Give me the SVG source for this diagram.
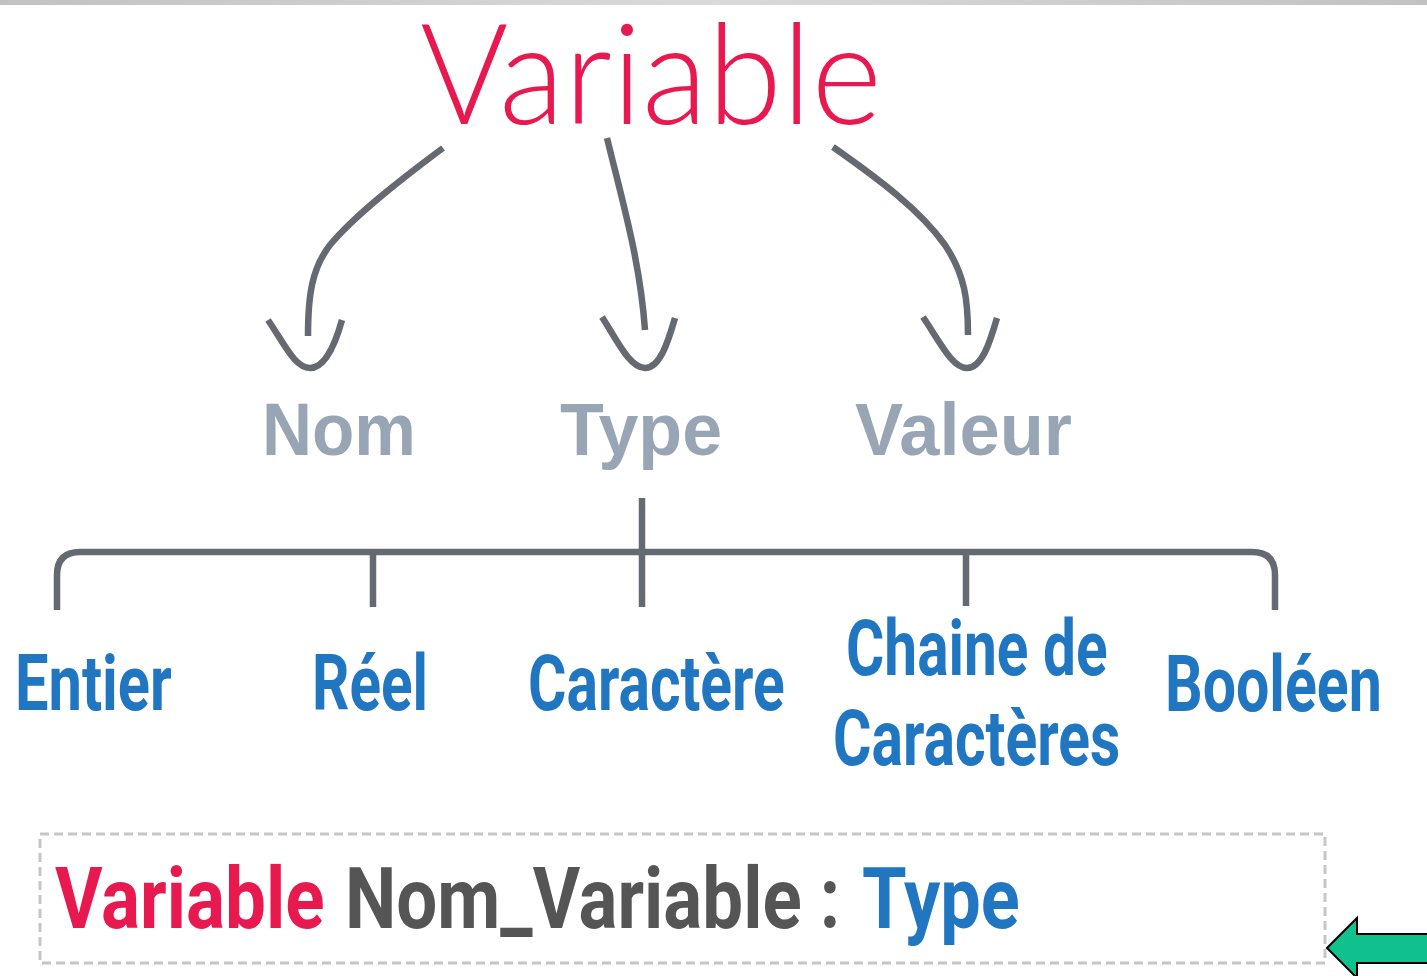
<svg xmlns="http://www.w3.org/2000/svg" width="1427" height="976" viewBox="0 0 1427 976">
  <defs>
    <linearGradient id="topBand" x1="0" y1="0" x2="1" y2="0">
      <stop offset="0" stop-color="#c2c2c2"/>
      <stop offset="0.5" stop-color="#dadada"/>
      <stop offset="1" stop-color="#c2c2c2"/>
    </linearGradient>
  </defs>
  <style>
    .wire { fill: none; stroke: #656a72; stroke-width: 6.5; stroke-linecap: butt; stroke-linejoin: round; }
    .head { fill: none; stroke: #656a72; stroke-width: 6.5; stroke-linecap: butt; stroke-linejoin: round; }
    .title { font-family: "Lato", "Open Sans", sans-serif; font-weight: 300; font-size: 140px; fill: #e8194f; }
    .part { font-family: "Liberation Sans", Arial, sans-serif; font-weight: bold; font-size: 75px; fill: #98a5b4; }
    .kind { font-family: "Roboto", "Liberation Sans", sans-serif; font-weight: bold; font-size: 77px; fill: #2176c2; }
    .decl { font-family: "Roboto", "Liberation Sans", sans-serif; font-weight: bold; font-size: 86px; }
  </style>

  <rect x="0" y="0" width="1427" height="976" fill="#ffffff"/>
  <rect x="0" y="0" width="1427" height="5" fill="url(#topBand)"/>

  <!-- root -->
  <g id="node-variable">
    <text class="title" x="420" y="124" textLength="462" lengthAdjust="spacingAndGlyphs">Variable</text>
  </g>

  <!-- components -->
  <g id="node-nom">
    <text class="part" x="262" y="455" textLength="154" lengthAdjust="spacingAndGlyphs">Nom</text>
  </g>
  <g id="node-type">
    <text class="part" x="560" y="455" textLength="162" lengthAdjust="spacingAndGlyphs">Type</text>
  </g>
  <g id="node-valeur">
    <text class="part" x="855" y="455" textLength="217" lengthAdjust="spacingAndGlyphs">Valeur</text>
  </g>

  <!-- data types: condensed bold, horizontal scale 0.8 -->
  <g id="node-entier">
    <text class="kind" transform="translate(15,710) scale(0.8,1)" textLength="196" lengthAdjust="spacingAndGlyphs">Entier</text>
  </g>
  <g id="node-reel">
    <text class="kind" transform="translate(312,710) scale(0.8,1)" textLength="145" lengthAdjust="spacingAndGlyphs">Réel</text>
  </g>
  <g id="node-caractere">
    <text class="kind" transform="translate(528,710) scale(0.8,1)" textLength="321" lengthAdjust="spacingAndGlyphs">Caractère</text>
  </g>
  <g id="node-chaine">
    <text class="kind" transform="translate(846,675) scale(0.8,1)" textLength="327" lengthAdjust="spacingAndGlyphs">Chaine de</text>
    <text class="kind" transform="translate(833,765) scale(0.8,1)" textLength="359" lengthAdjust="spacingAndGlyphs">Caractères</text>
  </g>
  <g id="node-booleen">
    <text class="kind" transform="translate(1165,711) scale(0.8,1)" textLength="271" lengthAdjust="spacingAndGlyphs">Booléen</text>
  </g>

  <!-- connectors -->
  <g id="connectors">
    <!-- Variable to Nom -->
    <path class="wire" d="M443,148 C400,180 355,215 330,245 C312,268 308,295 308,336"/>
    <path class="head" d="M268,320 C285,345 295,368 310,368 C325,368 335,345 342,320"/>
    <!-- Variable to Type -->
    <path class="wire" d="M607,138 C622,200 640,260 645,330"/>
    <path class="head" d="M602,317 C618,342 630,368 645,368 C660,368 668,342 675,318"/>
    <!-- Variable to Valeur -->
    <path class="wire" d="M833,147 C880,180 920,210 945,245 C965,275 968,300 968,335"/>
    <path class="head" d="M923,317 C940,342 952,368 967,368 C982,368 990,342 997,318"/>
    <!-- Type to the list of kinds -->
    <path class="wire" d="M642,498 V607"/>
    <path class="wire" d="M57,610 V575 Q57,552 80,552 H1252 Q1275,552 1275,575 V610"/>
    <path class="wire" d="M373,552 V607"/>
    <path class="wire" d="M966,552 V606"/>
  </g>

  <!-- declaration syntax -->
  <g id="node-declaration">
    <rect x="40" y="834" width="1285" height="129" fill="none" stroke="#c6c6c6" stroke-width="3" stroke-dasharray="9,5"/>
    <text class="decl" transform="translate(55,928) scale(0.8,1)" fill="#e8194f" textLength="337" lengthAdjust="spacingAndGlyphs">Variable</text>
    <text class="decl" transform="translate(345,928) scale(0.8,1)" fill="#555555" textLength="619" lengthAdjust="spacingAndGlyphs">Nom_Variable :</text>
    <text class="decl" transform="translate(862,928) scale(0.8,1)" fill="#2176c2" textLength="197" lengthAdjust="spacingAndGlyphs">Type</text>
  </g>

  <!-- pointer arrow -->
  <g id="node-pointer">
    <polygon points="1327,948 1357,918 1357,934 1430,934 1430,963 1357,963 1357,978" fill="#10c18e" stroke="#000000" stroke-width="2" stroke-linejoin="miter"/>
  </g>
</svg>
